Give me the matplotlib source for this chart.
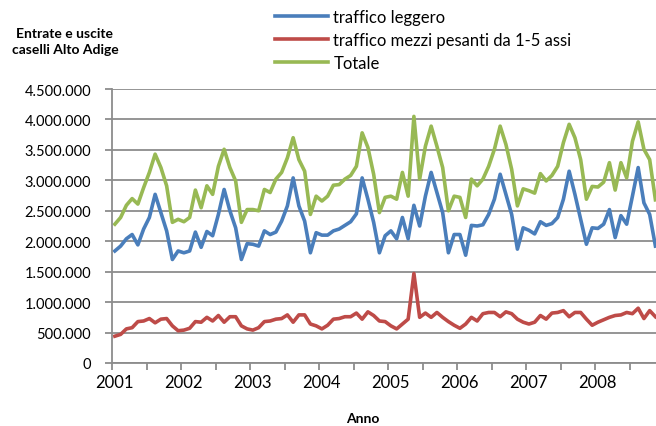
import numpy as np
import matplotlib.pyplot as plt

plt.rcParams['font.family'] = ['Lato', 'DejaVu Sans']

# valori mensili (milioni), gen 2001 - nov 2008
leggero = [1.84, 1.92, 2.04, 2.11, 1.94, 2.20, 2.39, 2.77, 2.47, 2.17, 1.70, 1.84,
           1.81, 1.84, 2.15, 1.90, 2.16, 2.09, 2.44, 2.85, 2.50, 2.22, 1.70, 1.96,
           1.95, 1.92, 2.17, 2.11, 2.15, 2.33, 2.58, 3.04, 2.58, 2.33, 1.81, 2.14,
           2.10, 2.10, 2.17, 2.20, 2.26, 2.32, 2.45, 3.04, 2.69, 2.31, 1.81, 2.09,
           2.17, 2.04, 2.39, 2.04, 2.59, 2.25, 2.74, 3.13, 2.80, 2.47, 1.81, 2.11,
           2.11, 1.77, 2.26, 2.25, 2.27, 2.44, 2.69, 3.10, 2.77, 2.44, 1.87, 2.22,
           2.18, 2.12, 2.32, 2.26, 2.29, 2.39, 2.69, 3.15, 2.77, 2.36, 1.95, 2.22,
           2.21, 2.28, 2.52, 2.06, 2.42, 2.28, 2.74, 3.21, 2.63, 2.44, 1.92]
pesanti = [0.44, 0.47, 0.56, 0.58, 0.68, 0.69, 0.73, 0.66, 0.72, 0.73, 0.61, 0.53,
           0.54, 0.57, 0.68, 0.67, 0.75, 0.69, 0.78, 0.67, 0.76, 0.76, 0.61, 0.56,
           0.54, 0.58, 0.68, 0.69, 0.72, 0.73, 0.79, 0.67, 0.79, 0.79, 0.64, 0.61,
           0.56, 0.62, 0.72, 0.73, 0.76, 0.76, 0.82, 0.72, 0.84, 0.78, 0.69, 0.68,
           0.61, 0.56, 0.64, 0.72, 1.47, 0.75, 0.82, 0.75, 0.83, 0.75, 0.68, 0.62,
           0.57, 0.64, 0.75, 0.69, 0.81, 0.83, 0.83, 0.76, 0.84, 0.81, 0.72, 0.67,
           0.64, 0.67, 0.78, 0.72, 0.82, 0.83, 0.86, 0.76, 0.83, 0.83, 0.72, 0.62,
           0.67, 0.71, 0.75, 0.78, 0.79, 0.83, 0.81, 0.90, 0.73, 0.86, 0.76]
totale = [2.28, 2.39, 2.59, 2.70, 2.61, 2.88, 3.13, 3.43, 3.21, 2.91, 2.31, 2.36,
          2.32, 2.39, 2.84, 2.55, 2.91, 2.77, 3.23, 3.51, 3.21, 2.99, 2.31, 2.52,
          2.52, 2.50, 2.85, 2.80, 3.02, 3.13, 3.37, 3.70, 3.34, 3.15, 2.44, 2.74,
          2.66, 2.74, 2.92, 2.93, 3.02, 3.08, 3.23, 3.78, 3.54, 3.10, 2.47, 2.72,
          2.74, 2.69, 3.13, 2.74, 4.05, 3.02, 3.56, 3.89, 3.56, 3.21, 2.50, 2.74,
          2.72, 2.39, 3.02, 2.91, 3.02, 3.23, 3.51, 3.89, 3.59, 3.18, 2.58, 2.86,
          2.83, 2.79, 3.11, 2.99, 3.08, 3.23, 3.62, 3.92, 3.70, 3.34, 2.69, 2.90,
          2.89, 2.97, 3.29, 2.84, 3.29, 3.04, 3.64, 3.96, 3.51, 3.34, 2.68]
anni = ['2001', '2002', '2003', '2004', '2005', '2006', '2007', '2008']

leggero = np.array(leggero) * 1e6
pesanti = np.array(pesanti) * 1e6
totale = np.array(totale) * 1e6
mesi = np.arange(len(leggero))

fig = plt.figure(figsize=(6.56, 4.27), dpi=100)
ax = fig.add_axes([112 / 656, 63 / 427, 1 - 112 / 656, 274 / 427])

grid_col = '#8c8c8c'
ax.plot(mesi, leggero, color='#4a7ebb', lw=2.6, label='traffico leggero')
ax.plot(mesi, pesanti, color='#be4b48', lw=2.6, label='traffico mezzi pesanti da 1-5 assi')
ax.plot(mesi, totale, color='#98b954', lw=2.6, label='Totale')

ax.set_ylim(0, 4.5e6)
ax.set_xlim(-0.5, 94.1)
ax.set_yticks(np.arange(0, 4.5e6 + 1, 5e5))
ax.set_yticklabels(['{:,.0f}'.format(v).replace(',', '.') for v in np.arange(0, 4.5e6 + 1, 5e5)])
ax.yaxis.grid(True, color=grid_col, lw=1.3)
ax.set_axisbelow(True)

ax.set_xticks(np.arange(len(anni)) * 12)
ax.set_xticklabels(anni, fontsize=12)
ax.set_xticks(np.arange(-0.5, 95, 6), minor=True)
ax.tick_params(axis='x', which='major', length=0, pad=8)
ax.tick_params(axis='x', which='minor', length=5, color=grid_col, width=1.3)
ax.tick_params(axis='y', length=5, color=grid_col, width=1.3, labelsize=10.5, pad=10)

for s in ['top', 'right']:
    ax.spines[s].set_visible(False)
ax.spines['left'].set_color(grid_col)
ax.spines['left'].set_linewidth(1.3)
ax.spines['bottom'].set_color(grid_col)
ax.spines['bottom'].set_linewidth(1.3)

ax.set_xlabel('Anno', fontsize=10, fontweight='bold')
ax.xaxis.set_label_coords(0.461, -0.18)
fig.text(65 / 656, 1 - 42 / 427, 'Entrate e uscite\ncaselli Alto Adige', ha='center', va='center',
         fontsize=10, fontweight='bold', linespacing=1.5)

fig.legend(loc='upper left', bbox_to_anchor=(275 / 656, 1 - 10 / 427), frameon=False,
           borderpad=0, borderaxespad=0, fontsize=12, handlelength=3.2, handletextpad=0.3,
           labelspacing=0.42)

fig.savefig('out.png', dpi=100)
